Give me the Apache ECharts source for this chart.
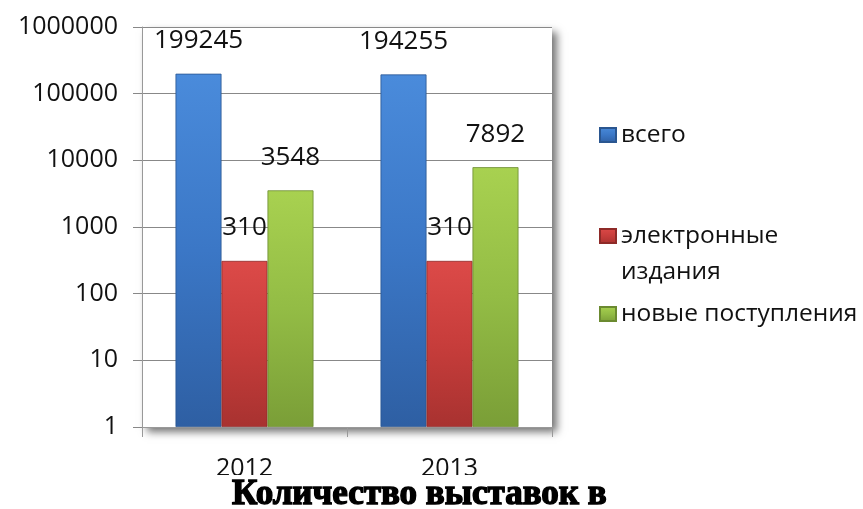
<!DOCTYPE html>
<html>
<head>
<meta charset="utf-8">
<script src="https://cdn.jsdelivr.net/npm/echarts@6/dist/echarts.min.js"></script>
<style>
html,body{margin:0;padding:0;background:#fff;}
#c{width:863px;height:509px;}
</style>
</head>
<body>
<div id="c"></div>
<script>
var categories = ['2012', '2013'];
var seriesNames = ['всего', 'электронные издания', 'новые поступления'];
var totalValues = [199245, 194255];
var electronicValues = [310, 310];
var newValues = [3548, 7892];
var titleText = 'Количество выставок в';

var FONT = 'Open Sans';

function grad(light, mid, dark) {
  return new echarts.graphic.LinearGradient(0, 0, 0, 1, [
    { offset: 0, color: light },
    { offset: 0.5, color: mid },
    { offset: 1, color: dark }
  ]);
}
var colors = [
  grad('#4A8BDB', '#3B77C6', '#2E5FA3'),
  grad('#DC4A48', '#C73D3B', '#A83230'),
  grad('#A8D150', '#93BC45', '#7A9E37')
];
var borders = ['#2A5690', '#8E2A28', '#6B8A30'];

function mkSeries(i, data) {
  return {
    name: seriesNames[i],
    type: 'bar',
    data: data,
    barGap: '0%',
    barCategoryGap: '32.7%',
    itemStyle: { color: colors[i], borderColor: borders[i], borderWidth: 0.8 },
    label: {
      show: true,
      position: 'top',
      distance: 20,
      fontFamily: FONT,
      fontSize: 26,
      color: '#111'
    }
  };
}

function mkLegend(name, top) {
  return {
    data: [name],
    orient: 'vertical',
    left: 599,
    top: top,
    padding: 0,
    itemWidth: 16,
    itemHeight: 14,
    icon: 'rect',
    formatter: function (n) { return n === 'электронные издания' ? '\nэлектронные\nиздания' : n; },
    textStyle: { fontFamily: FONT, fontSize: 24.5, color: '#111', lineHeight: 36 }
  };
}

var chart = echarts.init(document.getElementById('c'));
chart.setOption({
  backgroundColor: '#fff',
  animation: false,
  title: {
    text: titleText,
    left: 232,
    top: 477,
    z: 60,
    padding: 0,
    textStyle: {
      fontFamily: 'Liberation Serif',
      fontWeight: 'bold',
      fontSize: 35,
      color: '#000',
      textBorderColor: '#000',
      textBorderWidth: 1.4
    }
  },
  graphic: [{
    type: 'rect',
    z: 50,
    shape: { x: 0, y: 475, width: 863, height: 40 },
    style: { fill: '#fff' }
  }],
  legend: [
    mkLegend(seriesNames[0], 117),
    mkLegend(seriesNames[1], 182),
    mkLegend(seriesNames[2], 296)
  ],
  grid: {
    left: 142, right: 311, top: 27, bottom: 82,
    show: true,
    backgroundColor: '#fff',
    borderWidth: 0,
    shadowColor: 'rgba(0,0,0,0.55)',
    shadowBlur: 8,
    shadowOffsetX: 5,
    shadowOffsetY: 5
  },
  xAxis: {
    type: 'category',
    data: categories,
    axisLine: { lineStyle: { color: '#999', width: 1 } },
    axisTick: { show: true, length: 10, lineStyle: { color: '#999' } },
    axisLabel: { fontFamily: FONT, fontSize: 25, color: '#111', margin: 29 },
    splitLine: { show: false }
  },
  yAxis: {
    type: 'log',
    logBase: 10,
    min: 1,
    max: 1000000,
    interval: 1,
    axisLine: { show: true, lineStyle: { color: '#999', width: 1 } },
    axisTick: { show: true, length: 9, lineStyle: { color: '#888' } },
    axisLabel: {
      fontFamily: FONT, fontSize: 25, color: '#111', margin: 24,
      formatter: function (v) { return String(Math.round(v)); }
    },
    splitLine: { show: true, lineStyle: { color: '#888', width: 1 } }
  },
  series: [
    mkSeries(0, totalValues),
    mkSeries(1, electronicValues),
    mkSeries(2, newValues)
  ]
});
</script>
</body>
</html>
